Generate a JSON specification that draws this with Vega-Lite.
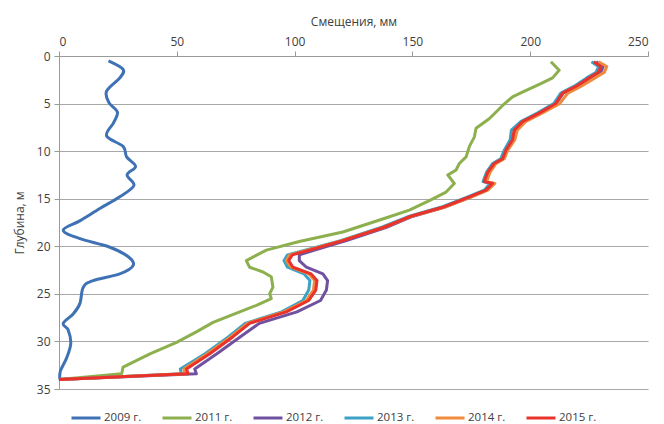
{
  "$schema": "https://vega.github.io/schema/vega-lite/v6.json",
  "width": 589,
  "height": 333,
  "autosize": {"type": "none"},
  "padding": {"left": 59, "top": 56, "right": 16, "bottom": 35},
  "background": "white",
  "config": {
    "font": "Open Sans",
    "view": {"stroke": null},
    "axis": {
      "labelColor": "#404040",
      "titleColor": "#404040",
      "labelFontSize": 12,
      "titleFontSize": 12,
      "titleFontWeight": "normal",
      "domainColor": "#9a9a9a",
      "tickColor": "#9a9a9a",
      "tickSize": 5,
      "gridColor": "#a8a8a8",
      "gridWidth": 1.2
    },
    "legend": {"labelColor": "#404040", "labelFontSize": 11.5}
  },
  "data": {
    "values": [
      {"year": "2009 г.", "depth": 0.5, "disp": 21},
      {"year": "2009 г.", "depth": 1.4, "disp": 27.2},
      {"year": "2009 г.", "depth": 2.3, "disp": 25.8},
      {"year": "2009 г.", "depth": 3.7, "disp": 20.2},
      {"year": "2009 г.", "depth": 4.9, "disp": 21.2},
      {"year": "2009 г.", "depth": 5.9, "disp": 24.8},
      {"year": "2009 г.", "depth": 7.0, "disp": 23.2},
      {"year": "2009 г.", "depth": 8.4, "disp": 20.2},
      {"year": "2009 г.", "depth": 9.5, "disp": 27.2},
      {"year": "2009 г.", "depth": 10.6, "disp": 28.7},
      {"year": "2009 г.", "depth": 11.6, "disp": 32.5},
      {"year": "2009 г.", "depth": 12.5, "disp": 28.9},
      {"year": "2009 г.", "depth": 13.6, "disp": 31.8},
      {"year": "2009 г.", "depth": 14.8, "disp": 25.8},
      {"year": "2009 г.", "depth": 16.0, "disp": 17.5},
      {"year": "2009 г.", "depth": 17.3, "disp": 9},
      {"year": "2009 г.", "depth": 18.3, "disp": 1.8},
      {"year": "2009 г.", "depth": 19.2, "disp": 8.9},
      {"year": "2009 г.", "depth": 20.1, "disp": 21.6},
      {"year": "2009 г.", "depth": 21.1, "disp": 29.4},
      {"year": "2009 г.", "depth": 22.0, "disp": 31.5},
      {"year": "2009 г.", "depth": 22.9, "disp": 25.8},
      {"year": "2009 г.", "depth": 23.6, "disp": 14.5},
      {"year": "2009 г.", "depth": 24.3, "disp": 10.3},
      {"year": "2009 г.", "depth": 26.0, "disp": 8.9},
      {"year": "2009 г.", "depth": 27.1, "disp": 6.1},
      {"year": "2009 г.", "depth": 28.1, "disp": 1.8},
      {"year": "2009 г.", "depth": 28.8, "disp": 3.9},
      {"year": "2009 г.", "depth": 30.2, "disp": 5},
      {"year": "2009 г.", "depth": 31.7, "disp": 3.3},
      {"year": "2009 г.", "depth": 33.1, "disp": 0.6},
      {"year": "2009 г.", "depth": 34.0, "disp": 0.4},

      {"year": "2011 г.", "depth": 0.6, "disp": 208.8},
      {"year": "2011 г.", "depth": 1.5, "disp": 212.3},
      {"year": "2011 г.", "depth": 2.3, "disp": 209.5},
      {"year": "2011 г.", "depth": 2.9, "disp": 204.5},
      {"year": "2011 г.", "depth": 3.8, "disp": 196.7},
      {"year": "2011 г.", "depth": 4.3, "disp": 192.5},
      {"year": "2011 г.", "depth": 5.2, "disp": 188.3},
      {"year": "2011 г.", "depth": 6.6, "disp": 182.6},
      {"year": "2011 г.", "depth": 7.6, "disp": 177},
      {"year": "2011 г.", "depth": 8.5, "disp": 176.3},
      {"year": "2011 г.", "depth": 9.5, "disp": 174.2},
      {"year": "2011 г.", "depth": 10.6, "disp": 172.8},
      {"year": "2011 г.", "depth": 11.3, "disp": 169.9},
      {"year": "2011 г.", "depth": 12.0, "disp": 168.5},
      {"year": "2011 г.", "depth": 12.5, "disp": 165},
      {"year": "2011 г.", "depth": 13.4, "disp": 167.8},
      {"year": "2011 г.", "depth": 14.3, "disp": 164.3},
      {"year": "2011 г.", "depth": 15.2, "disp": 157.2},
      {"year": "2011 г.", "depth": 16.2, "disp": 148.7},
      {"year": "2011 г.", "depth": 17.0, "disp": 139},
      {"year": "2011 г.", "depth": 18.5, "disp": 120.5},
      {"year": "2011 г.", "depth": 19.5, "disp": 102},
      {"year": "2011 г.", "depth": 20.4, "disp": 88},
      {"year": "2011 г.", "depth": 21.5, "disp": 79.5},
      {"year": "2011 г.", "depth": 22.2, "disp": 80.9},
      {"year": "2011 г.", "depth": 22.7, "disp": 86.6},
      {"year": "2011 г.", "depth": 23.2, "disp": 90.1},
      {"year": "2011 г.", "depth": 24.3, "disp": 90.8},
      {"year": "2011 г.", "depth": 25.0, "disp": 89.4},
      {"year": "2011 г.", "depth": 25.5, "disp": 90.1},
      {"year": "2011 г.", "depth": 26.2, "disp": 83.8},
      {"year": "2011 г.", "depth": 26.9, "disp": 76.7},
      {"year": "2011 г.", "depth": 28.0, "disp": 65.4},
      {"year": "2011 г.", "depth": 29.0, "disp": 58.3},
      {"year": "2011 г.", "depth": 30.1, "disp": 49.9},
      {"year": "2011 г.", "depth": 31.3, "disp": 38.6},
      {"year": "2011 г.", "depth": 32.7, "disp": 27.2},
      {"year": "2011 г.", "depth": 33.4, "disp": 26.6},
      {"year": "2011 г.", "depth": 34.0, "disp": 0},

      {"year": "2012 г.", "depth": 0.6, "disp": 228},
      {"year": "2012 г.", "depth": 1.1, "disp": 231},
      {"year": "2012 г.", "depth": 1.7, "disp": 230},
      {"year": "2012 г.", "depth": 2.3, "disp": 226},
      {"year": "2012 г.", "depth": 3.2, "disp": 220},
      {"year": "2012 г.", "depth": 3.9, "disp": 214},
      {"year": "2012 г.", "depth": 5.0, "disp": 211},
      {"year": "2012 г.", "depth": 6.0, "disp": 204},
      {"year": "2012 г.", "depth": 6.9, "disp": 197},
      {"year": "2012 г.", "depth": 7.8, "disp": 193.5},
      {"year": "2012 г.", "depth": 8.8, "disp": 193},
      {"year": "2012 г.", "depth": 9.9, "disp": 190},
      {"year": "2012 г.", "depth": 10.8, "disp": 188.5},
      {"year": "2012 г.", "depth": 11.3, "disp": 185},
      {"year": "2012 г.", "depth": 12.2, "disp": 182.5},
      {"year": "2012 г.", "depth": 13.2, "disp": 181},
      {"year": "2012 г.", "depth": 13.4, "disp": 184.5},
      {"year": "2012 г.", "depth": 14.1, "disp": 181.5},
      {"year": "2012 г.", "depth": 14.8, "disp": 175},
      {"year": "2012 г.", "depth": 15.9, "disp": 163.5},
      {"year": "2012 г.", "depth": 16.9, "disp": 149.5},
      {"year": "2012 г.", "depth": 18.0, "disp": 139},
      {"year": "2012 г.", "depth": 19.4, "disp": 122},
      {"year": "2012 г.", "depth": 20.4, "disp": 108.5},
      {"year": "2012 г.", "depth": 20.9, "disp": 102},
      {"year": "2012 г.", "depth": 21.5, "disp": 102},
      {"year": "2012 г.", "depth": 22.2, "disp": 105},
      {"year": "2012 г.", "depth": 22.9, "disp": 112},
      {"year": "2012 г.", "depth": 23.6, "disp": 114},
      {"year": "2012 г.", "depth": 24.6, "disp": 113.5},
      {"year": "2012 г.", "depth": 25.7, "disp": 111},
      {"year": "2012 г.", "depth": 26.9, "disp": 101},
      {"year": "2012 г.", "depth": 28.1, "disp": 85},
      {"year": "2012 г.", "depth": 29.5, "disp": 77},
      {"year": "2012 г.", "depth": 31.3, "disp": 67},
      {"year": "2012 г.", "depth": 32.9, "disp": 57.6},
      {"year": "2012 г.", "depth": 33.4, "disp": 58.3},
      {"year": "2012 г.", "depth": 34.0, "disp": 0},

      {"year": "2013 г.", "depth": 0.6, "disp": 226},
      {"year": "2013 г.", "depth": 1.1, "disp": 229},
      {"year": "2013 г.", "depth": 1.7, "disp": 228},
      {"year": "2013 г.", "depth": 2.3, "disp": 224},
      {"year": "2013 г.", "depth": 3.2, "disp": 218.5},
      {"year": "2013 г.", "depth": 3.9, "disp": 213},
      {"year": "2013 г.", "depth": 5.0, "disp": 210},
      {"year": "2013 г.", "depth": 6.0, "disp": 203},
      {"year": "2013 г.", "depth": 6.9, "disp": 196},
      {"year": "2013 г.", "depth": 7.8, "disp": 192},
      {"year": "2013 г.", "depth": 8.8, "disp": 191.5},
      {"year": "2013 г.", "depth": 9.9, "disp": 189},
      {"year": "2013 г.", "depth": 10.8, "disp": 187.5},
      {"year": "2013 г.", "depth": 11.3, "disp": 184},
      {"year": "2013 г.", "depth": 12.2, "disp": 181.5},
      {"year": "2013 г.", "depth": 13.2, "disp": 180},
      {"year": "2013 г.", "depth": 13.4, "disp": 183},
      {"year": "2013 г.", "depth": 14.1, "disp": 180.5},
      {"year": "2013 г.", "depth": 14.8, "disp": 173.5},
      {"year": "2013 г.", "depth": 15.9, "disp": 162},
      {"year": "2013 г.", "depth": 16.9, "disp": 148},
      {"year": "2013 г.", "depth": 18.0, "disp": 137},
      {"year": "2013 г.", "depth": 19.4, "disp": 119.5},
      {"year": "2013 г.", "depth": 20.4, "disp": 104.5},
      {"year": "2013 г.", "depth": 20.9, "disp": 97},
      {"year": "2013 г.", "depth": 21.5, "disp": 95.5},
      {"year": "2013 г.", "depth": 22.2, "disp": 97},
      {"year": "2013 г.", "depth": 22.9, "disp": 104},
      {"year": "2013 г.", "depth": 23.6, "disp": 106.5},
      {"year": "2013 г.", "depth": 24.6, "disp": 106},
      {"year": "2013 г.", "depth": 25.7, "disp": 103.5},
      {"year": "2013 г.", "depth": 26.9, "disp": 94.5},
      {"year": "2013 г.", "depth": 28.1, "disp": 79},
      {"year": "2013 г.", "depth": 29.5, "disp": 72},
      {"year": "2013 г.", "depth": 31.3, "disp": 62},
      {"year": "2013 г.", "depth": 32.9, "disp": 51.5},
      {"year": "2013 г.", "depth": 33.4, "disp": 52},
      {"year": "2013 г.", "depth": 34.0, "disp": 0},

      {"year": "2014 г.", "depth": 0.6, "disp": 229},
      {"year": "2014 г.", "depth": 1.1, "disp": 232.5},
      {"year": "2014 г.", "depth": 1.7, "disp": 231.5},
      {"year": "2014 г.", "depth": 2.3, "disp": 227.5},
      {"year": "2014 г.", "depth": 3.2, "disp": 221.5},
      {"year": "2014 г.", "depth": 3.9, "disp": 216},
      {"year": "2014 г.", "depth": 5.0, "disp": 212.5},
      {"year": "2014 г.", "depth": 6.0, "disp": 205},
      {"year": "2014 г.", "depth": 6.9, "disp": 198},
      {"year": "2014 г.", "depth": 7.8, "disp": 194.5},
      {"year": "2014 г.", "depth": 8.8, "disp": 193.5},
      {"year": "2014 г.", "depth": 9.9, "disp": 190.5},
      {"year": "2014 г.", "depth": 10.8, "disp": 189},
      {"year": "2014 г.", "depth": 11.3, "disp": 185.5},
      {"year": "2014 г.", "depth": 12.2, "disp": 183},
      {"year": "2014 г.", "depth": 13.2, "disp": 181.5},
      {"year": "2014 г.", "depth": 13.4, "disp": 185},
      {"year": "2014 г.", "depth": 14.1, "disp": 182},
      {"year": "2014 г.", "depth": 14.8, "disp": 175},
      {"year": "2014 г.", "depth": 15.9, "disp": 163.5},
      {"year": "2014 г.", "depth": 16.9, "disp": 149},
      {"year": "2014 г.", "depth": 18.0, "disp": 138},
      {"year": "2014 г.", "depth": 19.4, "disp": 120},
      {"year": "2014 г.", "depth": 20.4, "disp": 105.5},
      {"year": "2014 г.", "depth": 20.9, "disp": 98},
      {"year": "2014 г.", "depth": 21.5, "disp": 96.5},
      {"year": "2014 г.", "depth": 22.2, "disp": 98.5},
      {"year": "2014 г.", "depth": 22.9, "disp": 106},
      {"year": "2014 г.", "depth": 23.6, "disp": 108.5},
      {"year": "2014 г.", "depth": 24.6, "disp": 108},
      {"year": "2014 г.", "depth": 25.7, "disp": 105},
      {"year": "2014 г.", "depth": 26.9, "disp": 95.5},
      {"year": "2014 г.", "depth": 28.1, "disp": 80},
      {"year": "2014 г.", "depth": 29.5, "disp": 73},
      {"year": "2014 г.", "depth": 31.3, "disp": 63},
      {"year": "2014 г.", "depth": 32.9, "disp": 53},
      {"year": "2014 г.", "depth": 33.4, "disp": 53.5},
      {"year": "2014 г.", "depth": 34.0, "disp": 0},

      {"year": "2015 г.", "depth": 0.6, "disp": 227},
      {"year": "2015 г.", "depth": 1.1, "disp": 230},
      {"year": "2015 г.", "depth": 1.7, "disp": 229},
      {"year": "2015 г.", "depth": 2.3, "disp": 225},
      {"year": "2015 г.", "depth": 3.2, "disp": 219.4},
      {"year": "2015 г.", "depth": 3.9, "disp": 213.7},
      {"year": "2015 г.", "depth": 5.0, "disp": 210.9},
      {"year": "2015 г.", "depth": 6.0, "disp": 203.8},
      {"year": "2015 г.", "depth": 6.9, "disp": 196.7},
      {"year": "2015 г.", "depth": 7.8, "disp": 193.2},
      {"year": "2015 г.", "depth": 8.8, "disp": 192.5},
      {"year": "2015 г.", "depth": 9.9, "disp": 189.7},
      {"year": "2015 г.", "depth": 10.8, "disp": 188.3},
      {"year": "2015 г.", "depth": 11.3, "disp": 184.7},
      {"year": "2015 г.", "depth": 12.2, "disp": 182},
      {"year": "2015 г.", "depth": 13.2, "disp": 180.5},
      {"year": "2015 г.", "depth": 13.4, "disp": 184},
      {"year": "2015 г.", "depth": 14.1, "disp": 181.2},
      {"year": "2015 г.", "depth": 14.8, "disp": 174.2},
      {"year": "2015 г.", "depth": 15.9, "disp": 162.8},
      {"year": "2015 г.", "depth": 16.9, "disp": 148.7},
      {"year": "2015 г.", "depth": 18.0, "disp": 138},
      {"year": "2015 г.", "depth": 19.4, "disp": 120.5},
      {"year": "2015 г.", "depth": 20.4, "disp": 106.4},
      {"year": "2015 г.", "depth": 20.9, "disp": 99},
      {"year": "2015 г.", "depth": 21.5, "disp": 97.5},
      {"year": "2015 г.", "depth": 22.2, "disp": 99.3},
      {"year": "2015 г.", "depth": 22.9, "disp": 107},
      {"year": "2015 г.", "depth": 23.6, "disp": 109.5},
      {"year": "2015 г.", "depth": 24.6, "disp": 109},
      {"year": "2015 г.", "depth": 25.7, "disp": 106},
      {"year": "2015 г.", "depth": 26.9, "disp": 96.5},
      {"year": "2015 г.", "depth": 28.1, "disp": 80.9},
      {"year": "2015 г.", "depth": 29.5, "disp": 73.9},
      {"year": "2015 г.", "depth": 31.3, "disp": 64},
      {"year": "2015 г.", "depth": 32.9, "disp": 54.1},
      {"year": "2015 г.", "depth": 33.4, "disp": 54.8},
      {"year": "2015 г.", "depth": 34.0, "disp": 0}
    ]
  },
  "encoding": {
    "x": {
      "field": "disp", "type": "quantitative",
      "scale": {"domain": [0, 250], "nice": false},
      "axis": {
        "orient": "top", "values": [0, 50, 100, 150, 200, 250], "grid": false,
        "title": "Смещения, мм", "titlePadding": 7, "labelPadding": 3
      }
    },
    "y": {
      "field": "depth", "type": "quantitative",
      "scale": {"domain": [0, 35], "reverse": true, "nice": false, "zero": false},
      "axis": {
        "values": [0, 5, 10, 15, 20, 25, 30, 35], "grid": true,
        "title": "Глубина, м", "titlePadding": 10, "labelPadding": 4
      }
    },
    "order": {"field": "depth", "type": "quantitative"},
    "color": {
      "field": "year", "type": "nominal",
      "scale": {
        "domain": ["2009 г.", "2011 г.", "2012 г.", "2013 г.", "2014 г.", "2015 г."],
        "range": ["#3F72B5", "#8DB04E", "#7051A0", "#3AA3C5", "#F08A3C", "#E8322B"]
      },
      "legend": {
        "orient": "none", "legendX": 11, "legendY": 346,
        "direction": "horizontal", "columns": 6, "columnPadding": 14,
        "title": null, "symbolType": "stroke", "symbolSize": 841,
        "symbolStrokeWidth": 3, "labelOffset": 2
      }
    }
  },
  "layer": [
    {
      "transform": [{"filter": "datum.year == '2009 г.'"}],
      "mark": {"type": "line", "strokeWidth": 3, "interpolate": "cardinal"}
    },
    {
      "transform": [{"filter": "datum.year != '2009 г.'"}],
      "mark": {"type": "line", "strokeWidth": 3, "strokeJoin": "round"}
    }
  ]
}
